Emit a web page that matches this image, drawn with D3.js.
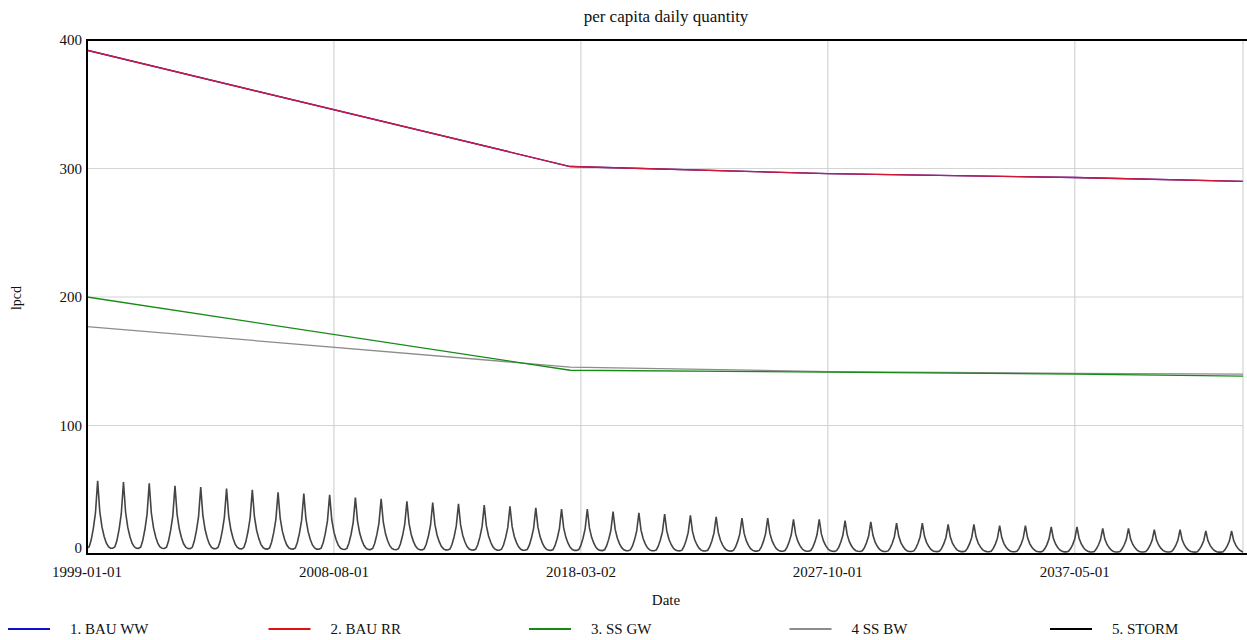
<!DOCTYPE html>
<html>
<head>
<meta charset="utf-8">
<script src="https://cdn.jsdelivr.net/npm/d3@7"></script>
<style>
  body { margin: 0; background: #fff; }
  svg text { font-family: "Liberation Serif", "Tinos", "DejaVu Serif", serif; }
</style>
</head>
<body>
<svg></svg>
<script>
const [WIDTH, HEIGHT] = [1247, 640]
const margin = { left: 87, right: 4, top: 40, bottom: 86 }

// key dates of the piecewise scenario lines
const lineDates = ["1999-01-01", "2017-10-01", "2027-10-01", "2037-05-01", "2043-11-10"]
const bauWW = [392, 301.5, 296, 293, 290]
const bauRR = [392, 301.5, 296, 293, 290]
const ssGW = [200, 143, 141.5, 140, 138.5]
const ssBW = [177, 145.5, 142, 140.5, 140]

// storm: yearly peak (lpcd) and the seasonal monthly shape as fraction of the peak
const stormPeaks = [57, 56, 55, 53, 52, 51, 50, 48, 47, 46, 44, 43, 41, 40, 39, 38, 37, 36, 35, 35,
  33, 32, 31, 30, 29, 28, 28, 27, 27, 26, 25, 24, 24, 23, 23, 22, 22, 21, 21, 20, 20, 19, 19, 18, 18]
const stormShape = [0.08, 0.1, 0.19, 0.35, 0.56, 1.0, 0.58, 0.37, 0.24, 0.15, 0.1, 0.08]

const xTicks = ["1999-01-01", "2008-08-01", "2018-03-02", "2027-10-01", "2037-05-01"]
const yTicks = [0, 100, 200, 300, 400]

const legendNames = ["1. BAU WW", "2. BAU RR", "3. SS GW", "4 SS BW", "5. STORM"]
const legendColors = ["#1010d0", "#e01010", "#168a16", "#8c8c8c", "#000000"]

const parse = d3.timeParse("%Y-%m-%d")

const svg = d3.select("svg").attr("width", WIDTH).attr("height", HEIGHT)
    .attr("font-family", "'Liberation Serif', Tinos, 'DejaVu Serif', serif")

const x = d3.scaleTime()
    .domain([parse(lineDates[0]), parse(lineDates[lineDates.length - 1])])
    .range([margin.left, WIDTH - margin.right])
const y = d3.scaleLinear().domain([0, 400]).range([HEIGHT - margin.bottom, margin.top])

const plotB = HEIGHT - margin.bottom

// gridlines
svg.append("g").selectAll("line").data(xTicks.slice(1)).join("line")
    .attr("x1", d => x(parse(d))).attr("x2", d => x(parse(d)))
    .attr("y1", margin.top).attr("y2", plotB)
    .attr("stroke", "#d4d4d4").attr("stroke-width", 1.2)
svg.append("g").selectAll("line").data(yTicks.slice(1, 4)).join("line")
    .attr("x1", margin.left).attr("x2", WIDTH - margin.right)
    .attr("y1", d => y(d)).attr("y2", d => y(d))
    .attr("stroke", "#d4d4d4").attr("stroke-width", 1.2)
svg.append("line")
    .attr("x1", WIDTH - margin.right).attr("x2", WIDTH - margin.right)
    .attr("y1", margin.top).attr("y2", plotB)
    .attr("stroke", "#d4d4d4").attr("stroke-width", 1.2)

svg.append("clipPath").attr("id", "clip").append("rect")
    .attr("x", margin.left).attr("y", margin.top)
    .attr("width", WIDTH - margin.right - margin.left).attr("height", plotB - margin.top)

const plot = svg.append("g").attr("clip-path", "url(#clip)")

const line = d3.line().x(d => x(d[0])).y(d => y(d[1]))
const asPoints = vals => lineDates.map((d, i) => [parse(d), vals[i]])

// storm series, monthly
const storm = []
stormPeaks.forEach((p, yr) => {
    stormShape.forEach((f, m) => storm.push([new Date(1999 + yr, m, 1), p * f]))
})

plot.append("path").datum(storm).attr("d", line)
    .attr("fill", "none").attr("stroke", "#444").attr("stroke-width", 1.6)
plot.append("path").datum(asPoints(ssBW)).attr("d", line)
    .attr("fill", "none").attr("stroke", legendColors[3]).attr("stroke-width", 1.3)
plot.append("path").datum(asPoints(ssGW)).attr("d", line)
    .attr("fill", "none").attr("stroke", legendColors[2]).attr("stroke-width", 1.3)
plot.append("path").datum(asPoints(bauWW)).attr("d", line)
    .attr("fill", "none").attr("stroke", legendColors[0]).attr("stroke-width", 1.4)
plot.append("path").datum(asPoints(bauRR)).attr("d", line)
    .attr("fill", "none").attr("stroke", "#d01838").attr("stroke-width", 1.4)

// frame: top, left, bottom
svg.append("path")
    .attr("d", `M${WIDTH},${margin.top}H${margin.left}V${plotB}H${WIDTH}`)
    .attr("fill", "none").attr("stroke", "#000").attr("stroke-width", 2)

// y tick labels
svg.append("g").selectAll("text").data(yTicks).join("text")
    .attr("x", margin.left - 5).attr("y", d => y(d) + (d === 0 ? -1 : 5))
    .attr("text-anchor", "end").attr("font-size", 15).attr("fill", "#111")
    .text(d => d)

// x tick labels
svg.append("g").selectAll("text").data(xTicks).join("text")
    .attr("x", d => x(parse(d))).attr("y", plotB + 23)
    .attr("text-anchor", "middle").attr("font-size", 15).attr("fill", "#111")
    .text(d => d)

svg.append("text").attr("x", 666).attr("y", 22)
    .attr("text-anchor", "middle").attr("font-size", 17).attr("fill", "#111")
    .text("per capita daily quantity")
svg.append("text").attr("x", 666).attr("y", 605)
    .attr("text-anchor", "middle").attr("font-size", 15).attr("fill", "#111")
    .text("Date")
svg.append("text").attr("transform", "translate(21,298) rotate(-90)")
    .attr("text-anchor", "middle").attr("font-size", 14).attr("fill", "#111")
    .text("lpcd")

// legend
const lg = svg.append("g").selectAll("g").data(legendNames).join("g")
    .attr("transform", (d, i) => `translate(${8 + i * 260.5},629)`)
lg.append("line").attr("x1", 0).attr("x2", 42)
    .attr("stroke", (d, i) => legendColors[i]).attr("stroke-width", 2)
lg.append("text").attr("x", 62).attr("y", 5)
    .attr("font-size", 15).attr("fill", "#111")
    .text(d => d)
</script>
</body>
</html>
